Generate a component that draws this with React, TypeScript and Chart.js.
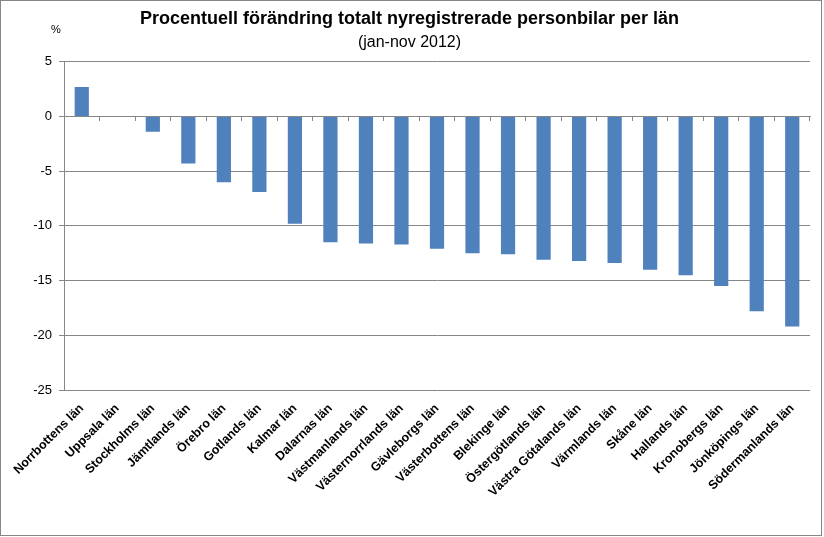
import React, { useEffect, useRef } from "react";
import { Chart, registerables } from "chart.js";

Chart.register(...registerables);

const titleText = "Procentuell förändring totalt nyregistrerade personbilar per län";
const subtitleText = "(jan-nov 2012)";
const unitLabel = "%";

const categories = [
  "Norrbottens län",
  "Uppsala län",
  "Stockholms län",
  "Jämtlands län",
  "Örebro län",
  "Gotlands län",
  "Kalmar län",
  "Dalarnas län",
  "Västmanlands län",
  "Västernorrlands län",
  "Gävleborgs län",
  "Västerbottens län",
  "Blekinge län",
  "Östergötlands län",
  "Västra Götalands län",
  "Värmlands län",
  "Skåne län",
  "Hallands län",
  "Kronobergs län",
  "Jönköpings län",
  "Södermanlands län",
];

const values = [
  2.7, 0, -1.4, -4.3, -6.0, -6.9, -9.8, -11.5, -11.6, -11.7, -12.1, -12.5,
  -12.6, -13.1, -13.2, -13.4, -14.0, -14.5, -15.5, -17.8, -19.2,
];

const yMin = -25;
const yMax = 5;
const yStep = 5;

const GRID = "#868686";
const FONT = "'Liberation Sans', Arial, sans-serif";

export default function App() {
  const ref = useRef<HTMLCanvasElement | null>(null);

  useEffect(() => {
    document.body.style.margin = "0";
    const canvas = ref.current;
    if (!canvas) return;

    const unitPlugin = {
      id: "unitLabel",
      afterDraw(chart: any) {
        const ctx = chart.ctx;
        const y = chart.scales.y;
        ctx.save();
        ctx.font = `11px ${FONT}`;
        ctx.fillStyle = "#000";
        ctx.textAlign = "center";
        ctx.textBaseline = "middle";
        ctx.fillText(unitLabel, y.right - 8, y.top - 32);
        ctx.restore();
      },
    };

    const chart = new Chart(canvas, {
      type: "bar",
      data: {
        labels: categories,
        datasets: [
          {
            data: values,
            backgroundColor: "#4F81BD",
            borderWidth: 0,
            barPercentage: 0.4,
            categoryPercentage: 1,
          },
        ],
      },
      options: {
        animation: false,
        responsive: true,
        maintainAspectRatio: false,
        layout: { padding: { left: 8, right: 11, top: 0, bottom: 0 } },
        plugins: {
          legend: { display: false },
          tooltip: { enabled: false },
          title: {
            display: true,
            text: titleText,
            color: "#000",
            font: { family: FONT, size: 18, weight: "bold" },
            padding: { top: 7, bottom: 1 },
          },
          subtitle: {
            display: true,
            text: subtitleText,
            color: "#000",
            font: { family: FONT, size: 16 },
            padding: { top: 2, bottom: 10 },
          },
        },
        scales: {
          x: {
            type: "category",
            position: "bottom",
            grid: { display: false, drawTicks: false },
            border: { display: false },
            ticks: {
              color: "#000",
              font: { family: FONT, size: 12.5, weight: "bold" },
              maxRotation: 45,
              minRotation: 45,
              autoSkip: false,
              padding: 11,
            },
            afterFit(scale: any) {
              scale.height = 145;
            },
          },
          x2: {
            type: "category",
            position: { y: 0 } as any,
            labels: categories,
            offset: true,
            grid: {
              offset: true,
              drawOnChartArea: false,
              drawTicks: true,
              tickLength: 4,
              color: GRID,
            },
            border: { display: true, color: GRID },
            ticks: { display: false },
          },
          y: {
            min: yMin,
            max: yMax,
            ticks: {
              stepSize: yStep,
              color: "#000",
              font: { family: FONT, size: 13 },
              padding: 7,
            },
            grid: { color: GRID, tickLength: 5 },
            border: { display: true, color: GRID },
            afterFit(scale: any) {
              scale.width = 55;
            },
          },
        },
      },
      plugins: [unitPlugin],
    });

    return () => chart.destroy();
  }, []);

  return (
    <div
      style={{
        position: "absolute",
        left: 0,
        top: 0,
        width: 822,
        height: 536,
        boxSizing: "border-box",
        border: "1px solid #868686",
        background: "#fff",
      }}
    >
      <canvas ref={ref} />
    </div>
  );
}
